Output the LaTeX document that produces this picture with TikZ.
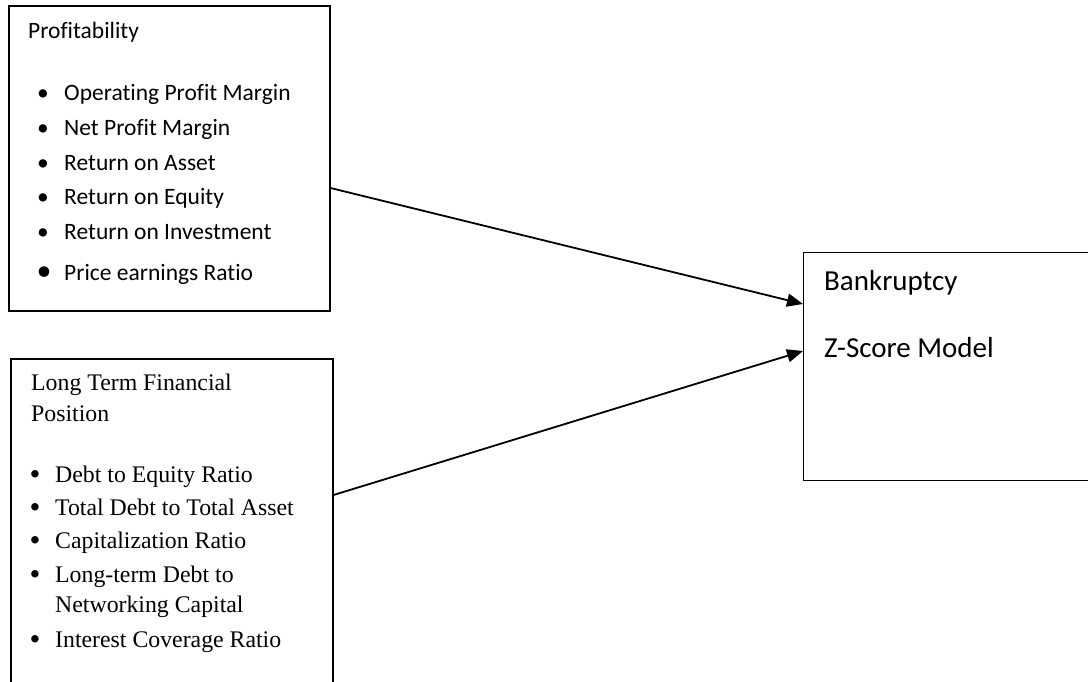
\documentclass[tikz,border=0pt]{standalone}
\usepackage{fontspec}
\setmainfont{Liberation Serif}
\newfontfamily\calib[Ligatures={NoCommon,NoContextual}]{Carlito}
\usetikzlibrary{positioning,calc,arrows.meta}

\begin{document}
\begin{tikzpicture}[x=1pt,y=-1pt,
  frame/.style={draw,line width=1.5pt,inner sep=0pt,anchor=north west},
  txt/.style={inner sep=0pt,anchor=base west},
  dot/.style={inner sep=0pt,anchor=base},
  calf/.style={font=\calib\fontsize{23.5}{28}\selectfont},
  timf/.style={font=\fontsize{23.8}{28}\selectfont},
  bigf/.style={font=\calib\fontsize{29}{34}\selectfont},
  link/.style={line width=1.8pt,-{Triangle[length=16pt,width=13pt]}}]
\useasboundingbox (0,0) rectangle (1088,681);
\clip (0,0) rectangle (1088,681);
\node[frame,minimum width=321pt,minimum height=305pt] (prof) at (8,5) {};
\node[frame,minimum width=322pt,minimum height=400pt] (ltfp) at (10,358) {};
\node[frame,line width=1.3pt,minimum width=400pt,minimum height=228pt] (zsc) at (803,252) {};

\node[txt,calf] (proft) at (28,38) {Profitability};
\foreach \t/\y [count=\i] in {Operating Profit Margin/100,Net Profit Margin/135,Return on Asset/170,Return on Equity/204,Return on Investment/239}
  {\node[dot,calf] (pb\i) at (43,\y) {\textbullet};
   \node[txt,calf] (pi\i) at (64,\y) {\t};}
\node[dot,font=\calib\fontsize{30}{34}\selectfont] (pb6) at (44,280) {\textbullet};
\node[txt,calf] (pi6) at (64,280) {Price earnings Ratio};

\node[txt,timf] (ltt1) at (31,390) {Long Term Financial};
\node[txt,timf] (ltt2) at (31,421) {Position};
\foreach \t/\y [count=\i] in {Debt to Equity Ratio/482,Total Debt to Total Asset/515,Capitalization Ratio/548,Long-term Debt to/582,Interest Coverage Ratio/647}
  {\node[dot,font=\fontsize{31}{34}\selectfont,yshift=-2.5pt] (lb\i) at (35,\y) {\textbullet};
   \node[txt,timf] (li\i) at (55,\y) {\t};}
\node[txt,timf] (li6) at (55,612) {Networking Capital};

\node[txt,bigf] (zs1) at (824,290) {Bankruptcy};
\node[txt,bigf] (zs2) at (824,357) {Z-Score Model};

\draw[link] ($(prof.north east)+(0,183)$) -- ($(zsc.north west)+(0,52)$);
\draw[link] ($(ltfp.north east)+(0,137)$) -- ($(zsc.north west)+(0,99)$);
\end{tikzpicture}
\end{document}
